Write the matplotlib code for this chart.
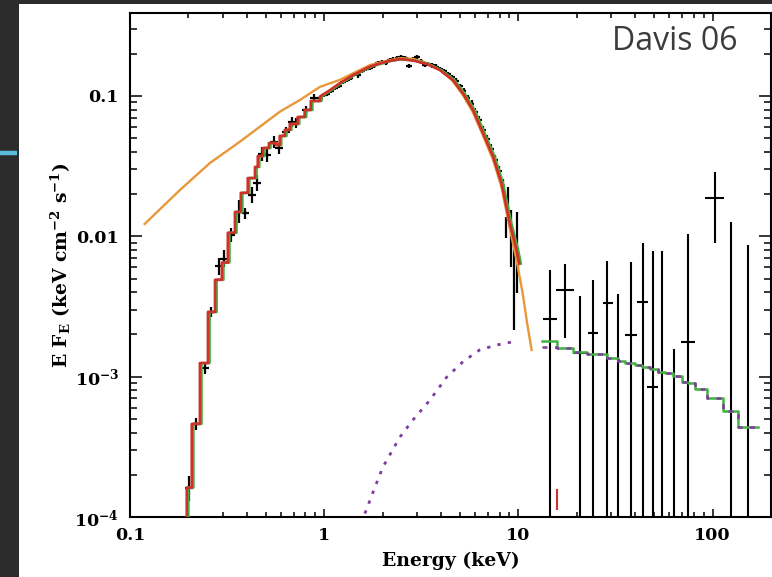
import numpy as np
import matplotlib
matplotlib.use('Agg')
import matplotlib.pyplot as plt
import matplotlib.ticker as mticker
import matplotlib.transforms as mtransforms
from matplotlib.patches import Rectangle
from matplotlib.lines import Line2D

plt.rcParams['font.family'] = ['DejaVu Serif']
plt.rcParams['font.weight'] = 'bold'
plt.rcParams['mathtext.fontset'] = 'custom'
plt.rcParams['mathtext.rm'] = 'DejaVu Serif:bold'
plt.rcParams['mathtext.bf'] = 'DejaVu Serif:bold'
plt.rcParams['mathtext.it'] = 'DejaVu Serif:bold'

# ---- soft X-ray data (keV, keV cm^-2 s^-1) ----
low_e = [0.202, 0.220, 0.243, 0.260, 0.287, 0.305, 0.333, 0.365, 0.393, 0.423,
         0.450, 0.477, 0.510, 0.551, 0.587, 0.635, 0.680, 0.720, 0.804, 0.886]
low_f = [1.6e-4, 4.6e-4, 1.15e-3, 2.9e-3, 6.1e-3, 6.9e-3, 0.0102, 0.0150, 0.0146, 0.0197,
         0.0240, 0.0385, 0.0380, 0.0470, 0.0424, 0.0557, 0.0656, 0.0639, 0.0795, 0.0963]
low_dex = [0.09, 0.045, 0.04, 0.035, 0.06, 0.06, 0.05, 0.08, 0.04, 0.06,
           0.06, 0.05, 0.05, 0.04, 0.04, 0.035, 0.035, 0.035, 0.03, 0.03]

dense_e = [0.96, 1.0, 1.04, 1.09, 1.14, 1.19, 1.25, 1.31, 1.37, 1.43,
           1.50, 1.57, 1.64, 1.72, 1.80, 1.89, 1.98, 2.07, 2.17, 2.27,
           2.38, 2.49, 2.61, 2.73, 2.86, 3.0, 3.14, 3.29, 3.44, 3.61,
           3.78, 3.96, 4.15, 4.35, 4.55, 4.77, 5.0, 5.23, 5.48, 5.74,
           6.01, 6.30, 6.60, 6.91, 7.24, 7.58, 7.94, 8.3]
dense_f = [0.097, 0.101, 0.104, 0.109, 0.114, 0.118, 0.126, 0.130, 0.135, 0.144,
           0.140, 0.150, 0.155, 0.158, 0.164, 0.171, 0.175, 0.173, 0.181, 0.184,
           0.185, 0.190, 0.186, 0.163, 0.182, 0.189, 0.176, 0.166, 0.170, 0.165,
           0.162, 0.156, 0.150, 0.143, 0.136, 0.128, 0.117, 0.108, 0.097, 0.088,
           0.077, 0.067, 0.057, 0.049, 0.042, 0.035, 0.029, 0.023]
dense_dex = [0.015] * 30 + [0.016, 0.016, 0.017, 0.017, 0.018, 0.019, 0.02, 0.021, 0.022,
                            0.024, 0.026, 0.028, 0.03, 0.032, 0.035, 0.038, 0.042, 0.047]

# wide error bars near 10 keV
tail_e = [8.6, 8.85, 9.21, 9.46, 9.84, 10.0]
tail_f = [0.0116, 0.0176, 0.00973, 0.0045, 0.0077, 0.0061]
tail_lo = [0.00973, 0.01374, 0.00604, 0.00215, 0.00394, 0.00547]
tail_hi = [0.01374, 0.0224, 0.0154, 0.00942, 0.0149, 0.00678]

# ---- hard X-ray data ----
hard_e = [14.5, 17.3, 20.7, 24.2, 28.5, 32.5, 37.8, 43.6, 49.2, 54.7, 63.1, 74.5, 102.6, 125.0, 153.0]
hard_f = [2.58e-3, 4.14e-3, 1.47e-3, 2.05e-3, 3.35e-3, np.nan, 1.98e-3, 3.40e-3, 8.43e-4,
          np.nan, np.nan, 1.77e-3, 1.87e-2, np.nan, np.nan]
hard_lo = [1e-6, 1.88e-3, 1e-6, 1e-6, 1e-6, 1e-6, 1e-6, 1e-6, 1e-6, 1e-6, 1e-6, 1e-6, 8.95e-3, 1e-6, 1e-6]
hard_hi = [5.75e-3, 6.35e-3, 3.76e-3, 4.89e-3, 6.67e-3, 3.88e-3, 6.56e-3, 8.95e-3, 7.85e-3,
           7.85e-3, 1.57e-3, 1.04e-2, 2.87e-2, 1.26e-2, 8.67e-3]
hard_elo = [13.35, 15.6, 19.1, 22.8, 27.2, np.nan, 35.3, 40.7, 45.8, np.nan, np.nan, 68.5, 91.0, np.nan, np.nan]
hard_ehi = [15.8, 19.3, 22.5, 25.6, 30.6, np.nan, 40.7, 46.3, 52.1, np.nan, np.nan, 80.9, 115.0, np.nan, np.nan]
red_pt_e = 15.8
red_pt_lo, red_pt_hi = 1.12e-4, 1.58e-4

# ---- models ----
soft_edges = [0.196, 0.208, 0.229, 0.252, 0.274, 0.297, 0.319, 0.347, 0.372, 0.404, 0.440,
              0.455, 0.483, 0.519, 0.564, 0.590, 0.627, 0.665, 0.730, 0.793, 0.853, 0.950]
soft_levels = [1.62e-4, 4.61e-4, 1.25e-3, 2.89e-3, 4.9e-3, 6.5e-3, 0.0106, 0.0149, 0.0204, 0.0260,
               0.0312, 0.0373, 0.0426, 0.0462, 0.0447, 0.0519, 0.0573, 0.0632, 0.0708, 0.0795, 0.0921]
model_e = [0.95, 1.07, 1.20, 1.41, 1.72, 2.10, 2.45, 2.86, 3.37, 3.94,
           4.59, 5.19, 5.84, 6.58, 7.41, 8.18, 9.03, 9.78, 10.1]
model_f = [0.0989, 0.110, 0.123, 0.141, 0.162, 0.176, 0.183, 0.179, 0.169, 0.153,
           0.130, 0.104, 0.0794, 0.0542, 0.0369, 0.0239, 0.0124, 0.0080, 0.0064]

orange_e = [0.119, 0.181, 0.258, 0.368, 0.592, 0.75, 0.95, 1.20, 1.72, 2.10, 2.45, 2.86, 3.37,
            3.94, 4.59, 5.19, 5.82, 6.58, 7.41, 8.18, 9.03, 9.78, 10.5, 11.1, 11.7]
orange_f = [0.01225, 0.0214, 0.0333, 0.0472, 0.0773, 0.0936, 0.116, 0.130, 0.166, 0.178, 0.186, 0.184,
            0.172, 0.154, 0.128, 0.101, 0.0770, 0.0520, 0.0350, 0.0225, 0.0114, 0.0068, 0.0040,
            0.0024, 0.00155]

purple_e = [1.55, 1.80, 2.0, 2.45, 2.86, 3.50, 4.27, 5.19, 6.32, 7.71, 9.36]
purple_f = [9e-5, 1.55e-4, 2.25e-4, 3.7e-4, 4.9e-4, 6.8e-4, 9.9e-4, 1.28e-3, 1.55e-3, 1.68e-3, 1.77e-3]

hard_edges = [13.2, 15.8, 19.1, 22.5, 28.5, 32.5, 35.3, 39.7, 43.2, 47.5, 52.2,
              56.7, 62.3, 69.3, 74.4, 80.9, 93.3, 113, 136, 171]
hard_total = [1.80e-3, 1.59e-3, 1.51e-3, 1.44e-3, 1.35e-3, 1.30e-3, 1.26e-3, 1.21e-3, 1.18e-3,
              1.13e-3, 1.08e-3, 1.06e-3, 1.01e-3, 9.2e-4, 8.97e-4, 8.17e-4, 7.0e-4, 5.7e-4, 4.37e-4]
hard_nonth = [1.63e-3] + hard_total[1:]

RED = '#d0302a'
GREEN = '#40b040'
ORANGE = '#e8973a'
PURPLE = '#7e3d9e'


def step_xy(edges, levels):
    xs = np.repeat(np.asarray(edges, float), 2)[1:-1]
    ys = np.repeat(np.asarray(levels, float), 2)
    return xs, ys


W, H = 772, 577
fig = plt.figure(figsize=(W / 100, H / 100), dpi=100)
fig.patch.set_facecolor('#2c2c2c')
fig.add_artist(Rectangle((19 / W, 0), 1 - 19 / W, (H - 4) / H, transform=fig.transFigure,
                         facecolor='white', edgecolor='none', zorder=-5))
fig.add_artist(Line2D([0, 17 / W], [1 - 153 / H] * 2, transform=fig.transFigure,
                      color='#5bbcdc', lw=3.2, solid_capstyle='butt'))

ax = fig.add_axes((130 / W, 60 / H, 641 / W, 504 / H))
ax.set_xscale('log')
ax.set_yscale('log')
ax.set_xlim(0.1, 200)
ax.set_ylim(1e-4, 0.39)

# orange model
ax.plot(orange_e, orange_f, color=ORANGE, lw=1.7, zorder=3)

# purple component (dotted)
ax.plot(purple_e, purple_f, color=PURPLE, lw=2.0, ls=(0, (1.2, 2.6)), zorder=3)

# black data
e = np.array(low_e)
f = np.array(low_f)
d = 10 ** np.array(low_dex)
w = 10 ** 0.02
ax.errorbar(e, f, yerr=[f - f / d, f * d - f], xerr=[e - e / w, e * w - e],
            fmt='none', ecolor='k', elinewidth=1.6, capsize=0, zorder=2)
e = np.array(dense_e)
f = np.array(dense_f)
d = 10 ** np.array(dense_dex)
w = 10 ** 0.014
ax.errorbar(e, f, yerr=[f - f / d, f * d - f], xerr=[e - e / w, e * w - e],
            fmt='none', ecolor='k', elinewidth=1.6, capsize=0, zorder=2)
ax.vlines(tail_e, tail_lo, tail_hi, color='k', lw=1.6, zorder=2)
ax.vlines(hard_e, hard_lo, hard_hi, color='k', lw=1.5, zorder=2)
ax.hlines(hard_f, hard_elo, hard_ehi, color='k', lw=1.5, zorder=2)
ax.vlines(red_pt_e, red_pt_lo, red_pt_hi, color=RED, lw=1.5, zorder=2)

# red / green stepped model (soft band)
xs, ys = step_xy(soft_edges, soft_levels)
mx = np.concatenate([[soft_edges[0]], xs, model_e])
my = np.concatenate([[1e-5], ys, model_f])
green_tr = mtransforms.offset_copy(ax.transData, fig=fig, x=1.6, y=0.0, units='dots')
ax.plot(mx, my, color=GREEN, lw=1.9, transform=green_tr, zorder=4)
ax.plot(mx, my, color=RED, lw=1.9, zorder=5)

# hard band model
hx, hy = step_xy(hard_edges, hard_total)
ax.plot(hx, hy, color=GREEN, lw=1.8, zorder=4)
px, py = step_xy(hard_edges, hard_nonth)
ax.plot(px, py, color=PURPLE, lw=1.8, ls=(0, (2.0, 3.0)), zorder=5)

# axes styling
for sp in ax.spines.values():
    sp.set_linewidth(1.5)
ax.tick_params(which='both', direction='in', top=True, right=True, width=1.1, color='k')
ax.tick_params(axis='x', which='major', length=6, pad=7)
ax.tick_params(axis='x', which='minor', length=3.5)
ax.tick_params(axis='y', which='major', length=8.5, pad=8)
ax.tick_params(axis='y', which='minor', length=5)

ax.xaxis.set_major_locator(mticker.FixedLocator([0.1, 1, 10, 100]))
ax.xaxis.set_major_formatter(mticker.FixedFormatter(['0.1', '1', '10', '100']))
ax.xaxis.set_minor_locator(mticker.LogLocator(base=10, subs=np.arange(2, 10)))
ax.xaxis.set_minor_formatter(mticker.NullFormatter())
ax.yaxis.set_major_locator(mticker.FixedLocator([1e-4, 1e-3, 1e-2, 0.1]))
ax.yaxis.set_major_formatter(mticker.FixedFormatter(
    [r'$\mathbf{10^{-4}}$', r'$\mathbf{10^{-3}}$', '0.01', '0.1']))
ax.yaxis.set_minor_locator(mticker.LogLocator(base=10, subs=np.arange(2, 10)))
ax.yaxis.set_minor_formatter(mticker.NullFormatter())
for lab in ax.get_xticklabels() + ax.get_yticklabels():
    lab.set_fontsize(12.5)
    lab.set_fontweight('bold')

ax.set_xlabel('Energy (keV)', fontsize=13.5, fontweight='bold', labelpad=6)
ax.set_ylabel(r'$\mathbf{E\ F_E\ (keV\ cm^{-2}\ s^{-1})}$', fontsize=13.5, labelpad=1)

fig.text(612 / W, 1 - 50 / H, 'Davis 06', family='Open Sans', fontweight='normal',
         fontsize=23, color='#3c3c3c', ha='left', va='baseline')

fig.savefig('out.png', dpi=100, facecolor=fig.get_facecolor())
